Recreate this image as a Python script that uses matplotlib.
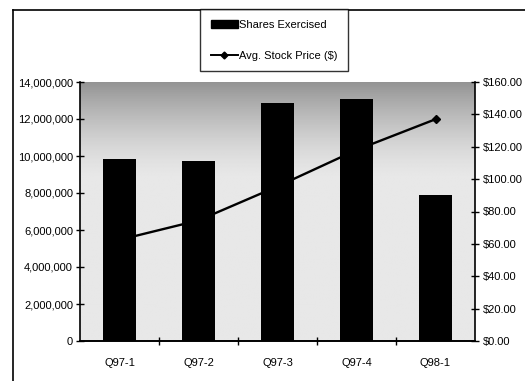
import matplotlib
matplotlib.use("Agg")
import matplotlib.pyplot as plt
from matplotlib.patches import Patch
from matplotlib.lines import Line2D
from matplotlib.ticker import FuncFormatter, MultipleLocator, FixedLocator
import numpy as np

quarters = ["Q97-1", "Q97-2", "Q97-3", "Q97-4", "Q98-1"]
shares_exercised = [9850000, 9750000, 12850000, 13080000, 7880000]
avg_stock_price = [62.5, 74.5, 95.5, 118.0, 137.0]

plt.rcParams["font.family"] = ["Liberation Sans", "DejaVu Sans"]
plt.rcParams["font.size"] = 8

W, H = 525, 381
fig = plt.figure(figsize=(W / 100, H / 100), dpi=100)
fig.patch.set_facecolor("white")

pos = [80 / W, 1 - 341 / H, (475 - 80) / W, (341 - 82) / H]
ax_bar = fig.add_axes(pos)
ax_line = ax_bar.twinx()

# line axis sits underneath so the bars cover the price line
ax_line.set_zorder(ax_bar.get_zorder() - 1)
ax_bar.patch.set_visible(False)
ax_line.patch.set_facecolor("#e6e6e6")

# plot-area shading: darker band along the top edge fading into light grey
t = np.linspace(0, 1, 200)[:, None]
shade = np.clip((t - 0.62) / 0.38, 0, 1) ** 1.5
grey = 0.91 - 0.33 * shade
ax_line.imshow(np.repeat(grey, 2, axis=1), cmap="gray", vmin=0, vmax=1,
               origin="lower", extent=[0, 1, 0, 1], aspect="auto",
               transform=ax_line.transAxes, zorder=0, interpolation="bilinear")

x = np.arange(len(quarters))
ax_bar.bar(x, shares_exercised, width=0.43, color="black", zorder=3)
ax_line.plot(x, avg_stock_price, color="black", lw=1.7, marker="D",
             markersize=4, zorder=2)

ax_bar.set_xlim(-0.5, len(quarters) - 0.5)
ax_bar.set_ylim(0, 14000000)
ax_line.set_ylim(0, 160)

ax_bar.yaxis.set_major_locator(MultipleLocator(2000000))
ax_bar.yaxis.set_major_formatter(FuncFormatter(lambda v, p: f"{int(v):,}"))
ax_line.yaxis.set_major_locator(MultipleLocator(20))
ax_line.yaxis.set_major_formatter(FuncFormatter(lambda v, p: f"${v:.2f}"))

ax_bar.xaxis.set_major_locator(FixedLocator(x))
ax_bar.set_xticklabels(quarters)
ax_bar.xaxis.set_minor_locator(FixedLocator(np.arange(len(quarters) - 1) + 0.5))
ax_bar.tick_params(axis="x", which="major", length=0, pad=12)
ax_bar.tick_params(axis="x", which="minor", direction="inout", length=6, width=1)
ax_bar.tick_params(axis="y", direction="inout", length=6, width=1, pad=2)
ax_line.tick_params(axis="y", direction="inout", length=6, width=1, pad=3)

for a in (ax_bar, ax_line):
    a.spines["top"].set_visible(False)
    for s in ("left", "right", "bottom"):
        a.spines[s].set_linewidth(1.2)
ax_bar.spines["right"].set_visible(False)
ax_line.spines["left"].set_visible(False)

handles = [
    Patch(facecolor="black", edgecolor="black", label="Shares Exercised"),
    Line2D([0], [0], color="black", lw=1.4, marker="D", markersize=3.5,
           label="Avg. Stock Price ($)"),
]
leg = fig.legend(handles=handles, loc="upper center",
                 bbox_to_anchor=(274 / W, 1 - 9 / H), frameon=True,
                 fancybox=False, edgecolor="black", handlelength=2.4,
                 handletextpad=0.1, labelspacing=1.9, borderpad=0.95,
                 borderaxespad=0, fontsize=8)
leg.get_frame().set_linewidth(1.0)

# outer chart border
fig.add_artist(Line2D([13 / W, 13 / W], [0, 1 - 10 / H], color="black",
                      lw=1.2, transform=fig.transFigure))
fig.add_artist(Line2D([13 / W, 1], [1 - 10 / H, 1 - 10 / H], color="black",
                      lw=1.2, transform=fig.transFigure))

fig.savefig("out.png", dpi=100)
